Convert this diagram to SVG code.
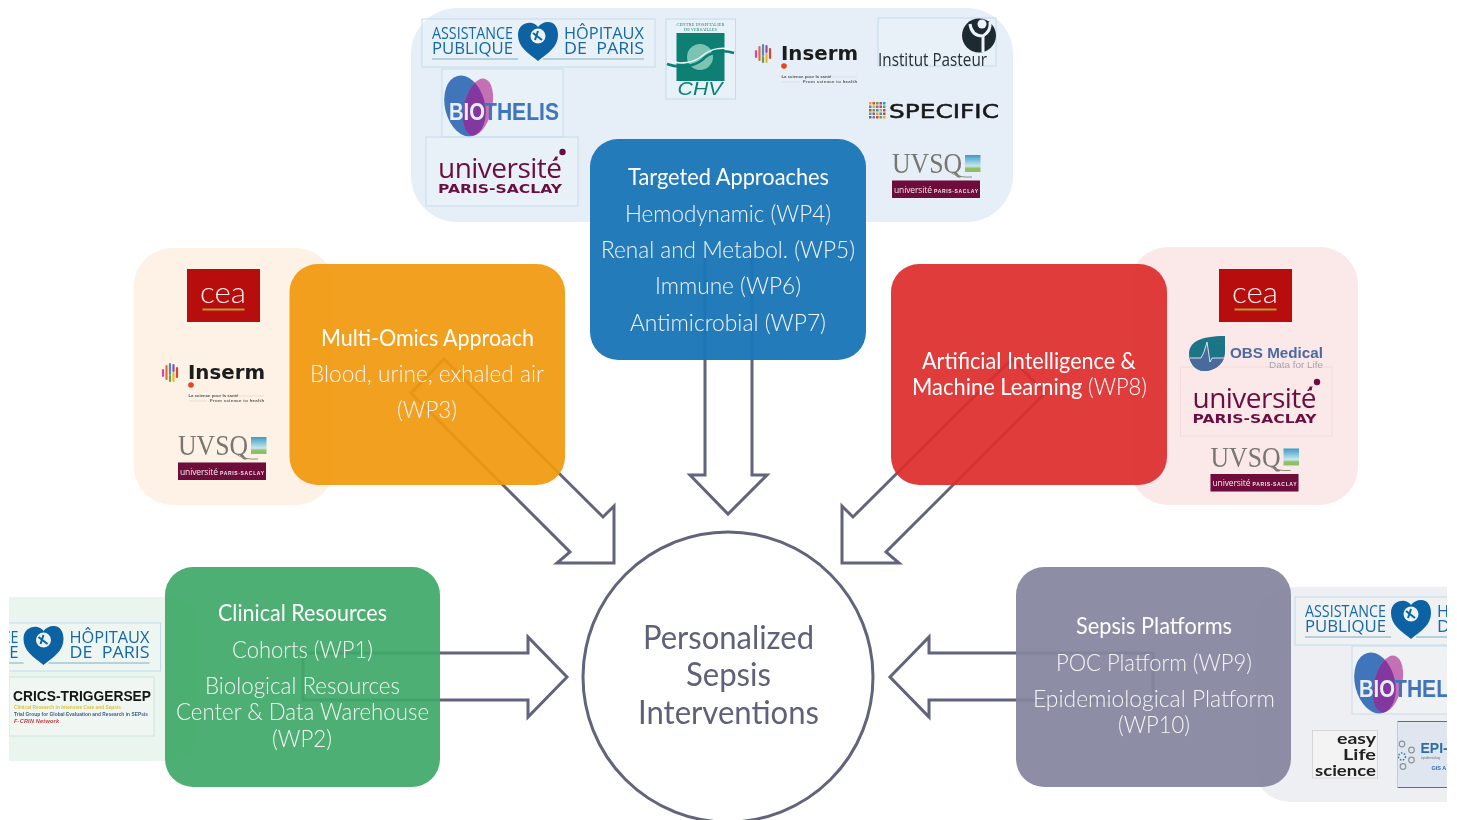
<svg xmlns="http://www.w3.org/2000/svg" xmlns:xlink="http://www.w3.org/1999/xlink" width="1457" height="820" viewBox="0 0 1457 820">
<style>
text{font-family:"Lato","Liberation Sans",sans-serif}
.t{font-size:24px;fill:#fff;font-weight:400;text-anchor:middle}
.b{font-size:24px;fill:#f4f4f4;font-weight:300;text-anchor:middle}
.c{font-size:33px;fill:#5f6079;font-weight:400;text-anchor:middle}
.box{stroke:none;fill-opacity:.93}
.arrow{fill:none;stroke:#62637c;stroke-width:3;stroke-linejoin:miter}
.aphp{font-size:16px;fill:#1468a6;font-family:"Open Sans",sans-serif}
</style>
<defs>
<filter id="soft" filterUnits="userSpaceOnUse" x="0" y="0" width="1457" height="820"><feGaussianBlur stdDeviation=".4"/></filter>
<clipPath id="page"><rect x="9" y="0" width="1438" height="820"/></clipPath>
<clipPath id="blob"><ellipse cx="465" cy="106" rx="20" ry="31" transform="rotate(-14 465 106)"/></clipPath>
<linearGradient id="sky" x1="0" y1="0" x2="0" y2="1"><stop offset="0" stop-color="#3a9cc6"/><stop offset=".65" stop-color="#c9e6ee"/><stop offset=".8" stop-color="#8fbf63"/><stop offset="1" stop-color="#8fbf63"/></linearGradient>
<g id="aphp">
<rect x="0" y="0" width="233" height="48" fill="#fff" fill-opacity=".12" stroke="#c2dcec" stroke-width="1"/>
<text class="aphp" x="10" y="20" textLength="81" lengthAdjust="spacingAndGlyphs">ASSISTANCE</text>
<text class="aphp" x="10" y="35" textLength="81" lengthAdjust="spacingAndGlyphs">PUBLIQUE</text>
<text class="aphp" x="142" y="20" textLength="80" lengthAdjust="spacingAndGlyphs">HÔPITAUX</text>
<text class="aphp" x="142" y="35" textLength="80" lengthAdjust="spacingAndGlyphs" xml:space="preserve">DE  PARIS</text>
<path d="M116 42C106 34 96 28 96 16C96 7 103 3 110 4C113 5 115 6 116 8C118 5 122 3 126 3C133 3 136 9 136 16C136 28 126 34 116 42Z" fill="#0c62a3"/>
<circle cx="116" cy="17" r="7.5" fill="#e9f3f8"/><path d="M111 14L120 21M116 12L113 21" stroke="#0c62a3" stroke-width="2" fill="none"/>
<path d="M10 40H96M121 40H222" stroke="#7faec4" stroke-width="1"/>
</g>
<g id="bio">
<rect x="0" y="0" width="121" height="68" fill="#fff" fill-opacity=".12" stroke="#c8dcec" stroke-width="1"/>
<ellipse cx="23" cy="37" rx="20" ry="31" transform="rotate(-14 23 37)" fill="#3f74bb"/>
<ellipse cx="36" cy="38" rx="14" ry="29" transform="rotate(13 36 38)" fill="#c36fb5"/>
<g transform="translate(-442 -69)" clip-path="url(#blob)"><ellipse cx="478" cy="107" rx="14" ry="29" transform="rotate(13 478 107)" fill="#83379f"/></g>
<text x="7" y="51" font-size="23.5" font-weight="700" fill="#e9eff8" style="font-family:'Liberation Sans',sans-serif" textLength="36" lengthAdjust="spacingAndGlyphs">BIO</text>
<text x="42" y="51" font-size="23.5" font-weight="700" fill="#3f74bb" style="font-family:'Liberation Sans',sans-serif" textLength="75" lengthAdjust="spacingAndGlyphs">THELIS</text>
</g>
<g id="inserm">
<g stroke-width="2.2" stroke-linecap="round">
<path d="M756 51V57" stroke="#c94f9c"/><path d="M759.500 47V60" stroke="#e8663b"/><path d="M763 45V55" stroke="#4b8bc7"/><path d="M763 57V62" stroke="#5aa845"/><path d="M766.500 46V52" stroke="#8d4fa8"/><path d="M766.500 54V62" stroke="#f0b429"/><path d="M770 49V58" stroke="#d9452f"/>
</g>
<text x="781" y="59.500" font-size="19.500" font-weight="700" fill="#1b1b1f" style="font-family:'DejaVu Sans',sans-serif" textLength="77" lengthAdjust="spacingAndGlyphs">Inserm</text>
<circle cx="784" cy="66" r="2.800" fill="#e8441f"/>
<text x="781.500" y="77.500" font-size="4.300" font-weight="700" fill="#555" style="font-family:'Liberation Sans',sans-serif">La science pour la santé</text>
<text x="803" y="83" font-size="4.300" font-weight="700" fill="#555" style="font-family:'Liberation Sans',sans-serif" textLength="54">From science to health</text>
<path d="M832 77H857M782 82H800" stroke="#d8c8c8" stroke-width=".5"/>
</g>
<g id="upsud">
<text x="438" y="178" font-size="28" font-weight="400" fill="#6b1040" style="font-family:'Open Sans',sans-serif" textLength="124">université</text>
<text x="438" y="193" font-size="12" font-weight="700" fill="#6b1040" style="font-family:'DejaVu Sans',sans-serif" textLength="124" lengthAdjust="spacingAndGlyphs">PARIS-SACLAY</text>
<circle cx="562.500" cy="152" r="3.200" fill="#6b1040"/><circle cx="556" cy="159" r="1.500" fill="#6b1040"/>
</g>
<g id="uvsq">
<text x="892" y="173" font-size="29" fill="#777670" style="font-family:'Liberation Serif',serif" textLength="70" lengthAdjust="spacingAndGlyphs">UVSQ</text>
<path d="M950 172Q958 178 972 177" fill="none" stroke="#8a8a80" stroke-width="1"/>
<rect x="965" y="155" width="15.500" height="17" fill="url(#sky)"/>
<rect x="892" y="180.500" width="88" height="17.500" fill="#6e0b3a"/>
<text x="894" y="192.500" font-size="8.500" fill="#f2e6ec" style="font-family:'Open Sans',sans-serif" textLength="38">université</text>
<text x="934" y="192.500" font-size="5" font-weight="700" fill="#f2e6ec" style="font-family:'Liberation Sans',sans-serif" textLength="44">PARIS-SACLAY</text>
</g>
<g id="cea">
<rect x="0" y="0" width="73" height="53" fill="#b70e0c"/>
<text x="36" y="34" text-anchor="middle" font-size="29" fill="#f6eeee" font-weight="300" textLength="46" lengthAdjust="spacingAndGlyphs">cea</text>
<path d="M15.500 40.500H57.500" stroke="#b99a3a" stroke-width="1.800"/>
</g>
</defs>

<g id="panels">
<rect id="panel-top" x="411" y="8" width="602" height="214" rx="46" fill="#e6eff7"/>
<rect id="panel-left" x="134" y="248" width="200" height="257" rx="38" fill="#fdf2e5"/>
<rect id="panel-right" x="1130" y="247" width="228" height="258" rx="38" fill="#fbe8e8"/>
<path id="panel-green" d="M9 597H167Q197 597 197 627V731Q197 761 167 761H9Z" fill="#ebf5ef"/>
<path id="panel-grey" d="M1447 587H1295Q1255 587 1255 627V762Q1255 802 1295 802H1447Z" fill="#eeeff2"/>
</g>

<g id="logos" clip-path="url(#page)">
<g filter="url(#soft)">
<use id="logo-aphp-top" xlink:href="#aphp" href="#aphp" x="422" y="19"/>
<use id="logo-bio-top" xlink:href="#bio" href="#bio" x="442" y="69"/>
<g id="logo-upsud-top"><rect x="426" y="137" width="152" height="69" fill="#fff" fill-opacity=".12" stroke="#c8dcec"/><use xlink:href="#upsud" href="#upsud"/></g>
<g id="logo-chv">
<rect x="666" y="19" width="69.500" height="80" fill="#fff" fill-opacity=".12" stroke="#c2dcec"/>
<text x="700.500" y="25.500" text-anchor="middle" font-size="4.500" fill="#1f8a78" style="font-family:'Liberation Serif',serif" textLength="48">CENTRE HOSPITALIER</text>
<text x="700.500" y="31" text-anchor="middle" font-size="4.500" fill="#1f8a78" style="font-family:'Liberation Serif',serif" textLength="33">DE VERSAILLES</text>
<rect x="676.500" y="33" width="48" height="48" fill="#078073"/>
<circle cx="700" cy="57" r="13" fill="#7cc3b4"/>
<path d="M667 64C680 69 695 66 702 60C710 52 722 49 734 53" fill="none" stroke="#078073" stroke-width="2.500"/>
<path d="M667 60C680 66 695 62 702 56C710 49 722 46 734 50" fill="none" stroke="#eef6f6" stroke-width="1.500"/>
<text x="700" y="95" text-anchor="middle" font-size="18" font-style="italic" fill="#078073" style="font-family:'Liberation Sans',sans-serif" textLength="45" lengthAdjust="spacingAndGlyphs">CHV</text>
</g>
<use id="logo-inserm-top" xlink:href="#inserm" href="#inserm"/>
<g id="logo-pasteur">
<rect x="878" y="18" width="118" height="48" fill="#fff" fill-opacity=".12" stroke="#c2dcec"/>
<text x="878" y="66" font-size="18" fill="#262f37" style="font-family:'Open Sans',sans-serif" textLength="109" lengthAdjust="spacingAndGlyphs">Institut Pasteur</text>
<circle cx="979" cy="35.500" r="17" fill="#1f2a33"/>
<path d="M983 52V36M983 36C976 36 971 32 970 24M983 36C988 33 991 29 990 22" fill="none" stroke="#edf4fa" stroke-width="3"/><circle cx="982" cy="24" r="4.500" fill="#edf4fa"/>
</g>
<g id="logo-specific">
<g fill="#3c8ec4"><rect x="869" y="102" width="2.500" height="2.500" fill="#e5a81f"/><rect x="872.500" y="102" width="2.500" height="2.500" fill="#d9452f"/><rect x="876" y="102" width="2.500" height="2.500" fill="#5aa845"/><rect x="879.500" y="102" width="2.500" height="2.500" fill="#8d4fa8"/><rect x="883" y="102" width="2.500" height="2.500"/><rect x="869" y="105.500" width="2.500" height="2.500"/><rect x="872.500" y="105.500" width="2.500" height="2.500" fill="#e5a81f"/><rect x="876" y="105.500" width="2.500" height="2.500" fill="#c94f9c"/><rect x="879.500" y="105.500" width="2.500" height="2.500" fill="#d9452f"/><rect x="883" y="105.500" width="2.500" height="2.500" fill="#5aa845"/><rect x="869" y="109" width="2.500" height="2.500" fill="#d9452f"/><rect x="872.500" y="109" width="2.500" height="2.500" fill="#5aa845"/><rect x="876" y="109" width="2.500" height="2.500"/><rect x="879.500" y="109" width="2.500" height="2.500" fill="#e5a81f"/><rect x="883" y="109" width="2.500" height="2.500" fill="#8d4fa8"/><rect x="869" y="112.500" width="2.500" height="2.500" fill="#5aa845"/><rect x="872.500" y="112.500" width="2.500" height="2.500" fill="#8d4fa8"/><rect x="876" y="112.500" width="2.500" height="2.500" fill="#e5a81f"/><rect x="879.500" y="112.500" width="2.500" height="2.500"/><rect x="883" y="112.500" width="2.500" height="2.500" fill="#d9452f"/><rect x="869" y="116" width="2.500" height="2.500" fill="#8d4fa8"/><rect x="872.500" y="116" width="2.500" height="2.500"/><rect x="876" y="116" width="2.500" height="2.500" fill="#d9452f"/><rect x="879.500" y="116" width="2.500" height="2.500" fill="#5aa845"/><rect x="883" y="116" width="2.500" height="2.500" fill="#e5a81f"/></g>
<text x="889" y="117.500" font-size="20" font-weight="400" fill="#15151a" stroke="#15151a" stroke-width=".5" style="font-family:'DejaVu Sans',sans-serif" textLength="110" lengthAdjust="spacingAndGlyphs">SPECIFIC</text>
</g>
<use id="logo-uvsq-top" xlink:href="#uvsq" href="#uvsq"/>

<use id="logo-cea-left" xlink:href="#cea" href="#cea" x="187" y="269"/>
<use id="logo-inserm-left" xlink:href="#inserm" href="#inserm" x="-593" y="319"/>
<use id="logo-uvsq-left" xlink:href="#uvsq" href="#uvsq" x="-714" y="282"/>

<use id="logo-cea-right" xlink:href="#cea" href="#cea" x="1219" y="269"/>
<g id="logo-upsud-right"><rect x="1180.500" y="367" width="151.500" height="69" fill="none" stroke="#f6d6d8" stroke-width=".8"/><use xlink:href="#upsud" href="#upsud" x="754.500" y="230"/></g>
<g id="logo-obs">
<path d="M1225 336V352C1225 363 1215 371 1204 371C1195 371 1189 363 1189 354C1189 342 1200 336 1225 336Z" fill="#1a7484"/>
<path d="M1190 358H1201L1204 352L1207 342L1210 362L1212 358H1224C1222 365 1214 371 1204 371C1197 371 1192 365 1190 358Z" fill="#4b6a9c"/>
<path d="M1190 358H1201L1204 352L1207 342L1210 362L1212 358H1224" fill="none" stroke="#e6f0f0" stroke-width=".9"/>
<text x="1230" y="358" font-size="15" font-weight="700" fill="#4b6aa0" style="font-family:'Liberation Sans',sans-serif" textLength="93" lengthAdjust="spacingAndGlyphs">OBS Medical</text>
<text x="1269" y="368" font-size="9" fill="#a5a5ad" style="font-family:'Liberation Sans',sans-serif" textLength="54" lengthAdjust="spacingAndGlyphs">Data for Life</text>
</g>
<use id="logo-uvsq-right" xlink:href="#uvsq" href="#uvsq" x="318.500" y="293.500"/>

<use id="logo-aphp-green" xlink:href="#aphp" href="#aphp" x="-72.500" y="623"/>
<g id="logo-crics">
<rect x="9" y="677" width="145" height="59" fill="#fff" fill-opacity=".25" stroke="#cbe5d6"/>
<text x="13" y="701" font-size="15" font-weight="700" fill="#141414" style="font-family:'Liberation Sans',sans-serif" textLength="138" lengthAdjust="spacingAndGlyphs">CRICS-TRIGGERSEP</text>
<text x="14" y="709" font-size="4.800" font-weight="700" fill="#d9c341" style="font-family:'Liberation Sans',sans-serif" textLength="107">Clinical Research in Intensive Care and Sepsis</text>
<text x="14" y="716" font-size="4.800" font-weight="700" fill="#3d5a8d" style="font-family:'Liberation Sans',sans-serif" textLength="134">Trial Group for Global Evaluation and Research in SEPsis</text>
<text x="14" y="723" font-size="5.500" font-weight="700" font-style="italic" fill="#c9373d" style="font-family:'Liberation Sans',sans-serif" textLength="45">F-CRIN Network</text>
</g>

<use id="logo-aphp-grey" xlink:href="#aphp" href="#aphp" x="1295" y="597"/>
<use id="logo-bio-grey" xlink:href="#bio" href="#bio" x="1352" y="646"/>
<g id="logo-easy">
<rect x="1312.500" y="730.500" width="65" height="47.500" fill="#f3f3f4" stroke="#d6d6d8"/>
<g font-size="16" font-weight="700" fill="#222" style="font-family:'DejaVu Sans',sans-serif">
<text x="1337" y="744" textLength="39" lengthAdjust="spacingAndGlyphs">easy</text>
<text x="1343" y="760" textLength="33" lengthAdjust="spacingAndGlyphs">Life</text>
<text x="1315" y="775.500" textLength="61" lengthAdjust="spacingAndGlyphs">science</text>
</g>
</g>
<g id="logo-epi">
<rect x="1397.500" y="721.500" width="70" height="66" fill="#dfe6ef" stroke="none"/>
<path d="M1397.500 721.500H1467M1397.500 787.500H1467" stroke="#3a76ad" stroke-width="1.200"/>
<path d="M1397.500 721.500V787.500" stroke="#b9cde0" stroke-width="1"/>
<g fill="none" stroke="#8f9498" stroke-width="1.200"><circle cx="1402" cy="744" r="2.800"/><circle cx="1411.500" cy="750" r="2.800"/><circle cx="1411.500" cy="760" r="2.800"/><circle cx="1403" cy="766.500" r="2.800"/></g>
<circle cx="1402" cy="756.500" r="3.500" fill="none" stroke="#2f7ab5" stroke-width="1.500" stroke-dasharray="1.500 1.500"/>
<text x="1420.500" y="752.500" font-size="14" font-weight="700" fill="#2c6ea8" style="font-family:'Liberation Sans',sans-serif">EPI-</text>
<text x="1421" y="758.500" font-size="3.500" fill="#5b7a96" style="font-family:'Liberation Sans',sans-serif">épidémiolog</text>
<text x="1431.500" y="770" font-size="5.500" font-weight="700" fill="#2c6ea8" style="font-family:'Liberation Sans',sans-serif">GIS A</text>
</g>
</g>
</g>

<g id="connectors">
<path class="arrow" d="M705 257V475H690L728 514L767 475H752V257"/>
<path class="arrow" d="M444 359L603 517L614 506V563H557L570 552L411 393Z"/>
<path class="arrow" d="M1012 359L853 517L842 506V563H899L886 552L1045 393Z"/>
<path class="arrow" d="M303 653H528V637L567 677L528 717V700H303Z"/>
<path class="arrow" d="M1153 653H929V637L890 677L929 717V700H1153Z"/>
</g>

<g id="node-center">
<circle cx="728" cy="677" r="145" fill="#fff" stroke="#62637c" stroke-width="3"/>
<text class="c" x="728.500" y="649" textLength="171" lengthAdjust="spacingAndGlyphs">Personalized</text>
<text class="c" x="728.500" y="686" textLength="85" lengthAdjust="spacingAndGlyphs">Sepsis</text>
<text class="c" x="728.500" y="724" textLength="181" lengthAdjust="spacingAndGlyphs">Interventions</text>
</g>
<g id="node-targeted">
<rect class="box" x="590" y="139" width="276" height="221" rx="28" fill="#1b76b7" style="fill-opacity:.96"/>
<text class="t" x="728.500" y="185" textLength="201" lengthAdjust="spacingAndGlyphs">Targeted Approaches</text>
<text class="b" x="728" y="222" textLength="206" lengthAdjust="spacingAndGlyphs">Hemodynamic (WP4)</text>
<text class="b" x="728" y="258" textLength="254" lengthAdjust="spacingAndGlyphs">Renal and Metabol. (WP5)</text>
<text class="b" x="728" y="294" textLength="146" lengthAdjust="spacingAndGlyphs">Immune (WP6)</text>
<text class="b" x="728" y="331" textLength="196" lengthAdjust="spacingAndGlyphs">Antimicrobial (WP7)</text>
</g>
<g id="node-omics">
<rect class="box" x="289.500" y="264" width="275.500" height="221" rx="28" fill="#f1990f"/>
<text class="t" x="427.500" y="346" textLength="213" lengthAdjust="spacingAndGlyphs">Multi-Omics Approach</text>
<text class="b" x="427" y="382" textLength="234" lengthAdjust="spacingAndGlyphs">Blood, urine, exhaled air</text>
<text class="b" x="427" y="418" textLength="60" lengthAdjust="spacingAndGlyphs">(WP3)</text>
</g>
<g id="node-ai">
<rect class="box" x="891" y="264" width="276" height="221" rx="28" fill="#de2d2d"/>
<text class="t" x="1029" y="369" textLength="214" lengthAdjust="spacingAndGlyphs">Artificial Intelligence &amp;</text>
<text class="t" x="1029.500" y="395" textLength="235" lengthAdjust="spacingAndGlyphs">Machine Learning <tspan font-weight="300">(WP8)</tspan></text>
</g>
<g id="node-clinical">
<rect class="box" x="165" y="567" width="275" height="220" rx="28" fill="#3fa968"/>
<text class="t" x="302.500" y="621" textLength="169" lengthAdjust="spacingAndGlyphs">Clinical Resources</text>
<text class="b" x="302.500" y="658" textLength="141" lengthAdjust="spacingAndGlyphs">Cohorts (WP1)</text>
<text class="b" x="302.500" y="694" textLength="195" lengthAdjust="spacingAndGlyphs">Biological Resources</text>
<text class="b" x="302.500" y="720" textLength="253" lengthAdjust="spacingAndGlyphs">Center &amp; Data Warehouse</text>
<text class="b" x="302" y="747" textLength="60" lengthAdjust="spacingAndGlyphs">(WP2)</text>
</g>
<g id="node-platforms">
<rect class="box" x="1016" y="567" width="275" height="220" rx="28" fill="#84859f"/>
<text class="t" x="1154" y="634" textLength="156" lengthAdjust="spacingAndGlyphs">Sepsis Platforms</text>
<text class="b" x="1154" y="671" textLength="196" lengthAdjust="spacingAndGlyphs">POC Platform (WP9)</text>
<text class="b" x="1154" y="707" textLength="242" lengthAdjust="spacingAndGlyphs">Epidemiological Platform</text>
<text class="b" x="1154" y="733" textLength="72" lengthAdjust="spacingAndGlyphs">(WP10)</text>
</g>
</svg>
